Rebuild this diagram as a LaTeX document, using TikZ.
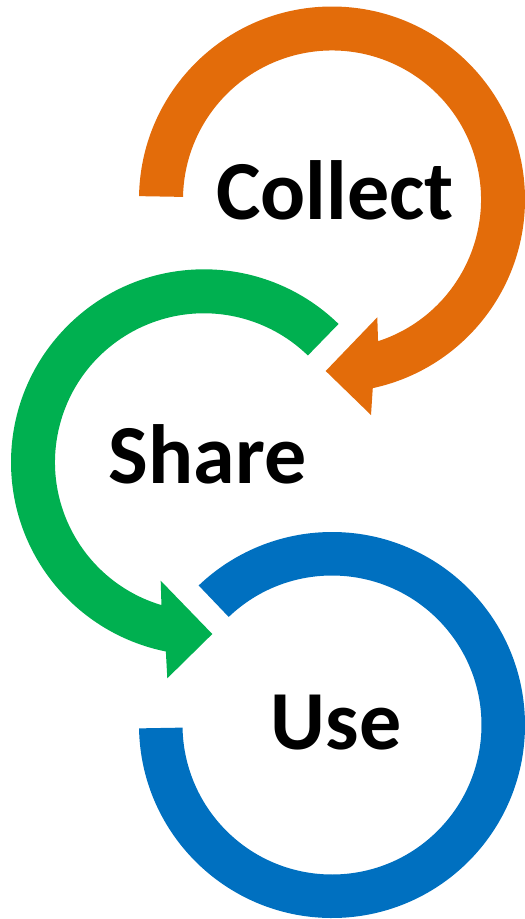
\documentclass[tikz,border=0pt]{standalone}
\usepackage{fontspec}
\setmainfont{Carlito}
\usetikzlibrary{calc}
\definecolor{corange}{HTML}{E36C0A}
\definecolor{cgreen}{HTML}{00B050}
\definecolor{cblue}{HTML}{0070C0}
\begin{document}
\begin{tikzpicture}[x=1pt,y=1pt,
  lbl/.style={font=\fontsize{84}{84}\selectfont\bfseries, inner sep=0pt, text=black}]
\useasboundingbox (0,0) rectangle (525,-919);
% orange arrow (Collect)
\coordinate (oc) at (332,-199.5);
\fill[corange] ($(oc)+(179:193pt)$) arc[start angle=179, end angle=-77.8, radius=193pt]
  -- (371,-415) -- (325.7,-371) -- (377.3,-317.3)
  -- ($(oc)+(-72:149pt)$) arc[start angle=-72, end angle=179, radius=149pt] -- cycle;
% green arrow (Share)
\coordinate (gc) at (204,-462.3);
\fill[cgreen] ($(gc)+(45.8:193pt)$) arc[start angle=45.8, end angle=258.6, radius=193pt]
  -- (167.3,-678.3) -- (212.3,-634) -- (160.7,-580.7)
  -- ($(gc)+(253.4:149pt)$) arc[start angle=253.4, end angle=45.8, radius=149pt] -- cycle;
% blue ring (Use)
\coordinate (bc) at (332,-725);
\fill[cblue] ($(bc)+(181:193pt)$) arc[start angle=181, end angle=493.7, radius=193pt]
  -- ($(bc)+(493.7:149.5pt)$) arc[start angle=493.7, end angle=181, radius=149.5pt] -- cycle;
% labels
\node[lbl, anchor=base] (collect) at (334.8,-219) {Collect};
\node[lbl, anchor=base] (share) at (207.5,-483.3) {Share};
\node[lbl, anchor=base] (use) at (336.2,-749.3) {Use};
\end{tikzpicture}
\end{document}
